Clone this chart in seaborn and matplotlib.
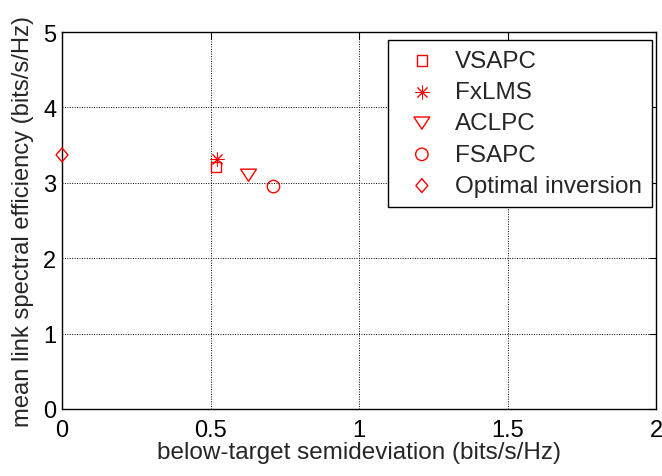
import matplotlib
matplotlib.use("Agg")
import matplotlib.pyplot as plt
from matplotlib.path import Path
import seaborn as sns
import pandas as pd

methods = ["VSAPC", "FxLMS", "ACLPC", "FSAPC", "Optimal inversion"]
semidev = [0.519, 0.523, 0.628, 0.712, 0.0]
efficiency = [3.21, 3.32, 3.10, 2.95, 3.37]

x_ticks = [0, 0.5, 1, 1.5, 2]
x_tick_labels = ["0", "0.5", "1", "1.5", "2"]
y_ticks = [0, 1, 2, 3, 4, 5]
y_tick_labels = ["0", "1", "2", "3", "4", "5"]

tri_down = Path([(-0.65, 0.5), (0.65, 0.5), (0, -0.5), (-0.65, 0.5)],
                [Path.MOVETO, Path.LINETO, Path.LINETO, Path.CLOSEPOLY])
diamond = Path([(0, 0.5), (0.43, 0), (0, -0.5), (-0.43, 0), (0, 0.5)],
               [Path.MOVETO, Path.LINETO, Path.LINETO, Path.LINETO, Path.CLOSEPOLY])
marker_styles = ["s", (8, 2, 0), tri_down, "o", diamond]
marker_sizes = [55, 90, 130, 80, 100]

df = pd.DataFrame({"method": methods, "x": semidev, "y": efficiency})

sns.set_style("white")
plt.rcParams["font.family"] = ["Liberation Sans", "DejaVu Sans"]

fig = plt.figure(figsize=(6.62, 4.77), dpi=100)
ax = fig.add_axes([62 / 662, 67 / 477, 594 / 662, 377 / 477])

for i, row in df.iterrows():
    m = marker_styles[i]
    if isinstance(m, tuple):
        sns.scatterplot(x=[row["x"]], y=[row["y"]], marker=m, s=marker_sizes[i],
                        color="red", linewidths=0.7, label=row["method"],
                        ax=ax, clip_on=False, zorder=5)
    else:
        sns.scatterplot(x=[row["x"]], y=[row["y"]], marker=m, s=marker_sizes[i],
                        facecolors="none", edgecolor="red", linewidths=1.0,
                        label=row["method"], ax=ax, clip_on=False, zorder=5)

ax.set_xlim(0, 2)
ax.set_ylim(0, 5)
ax.set_xticks(x_ticks)
ax.set_xticklabels(x_tick_labels)
ax.set_yticks(y_ticks)
ax.set_yticklabels(y_tick_labels)
ax.grid(True, color="black", linestyle=(0, (1, 1.5)), linewidth=0.7)
ax.set_axisbelow(True)
for s in ax.spines.values():
    s.set_color("black")
    s.set_linewidth(1.0)
ax.tick_params(direction="in", length=5, labelsize=17, colors="black",
               top=True, right=True)
ax.tick_params(axis="x", pad=7)
ax.tick_params(axis="y", pad=4)
ax.set_xlabel("below-target semideviation (bits/s/Hz)", fontsize=17.5, labelpad=0)
ax.set_ylabel("mean link spectral efficiency (bits/s/Hz)", fontsize=17.1, labelpad=7)

leg = ax.legend(loc="upper right", bbox_to_anchor=((652 - 62) / 594, (410 - 41) / 377),
                fontsize=17.5,
                frameon=True, fancybox=False, edgecolor="black", framealpha=1,
                borderaxespad=0, handletextpad=0.39, labelspacing=0.38,
                borderpad=0.41, handlelength=1.95)
leg.get_frame().set_linewidth(1.0)

fig.savefig("out.png", dpi=100)
